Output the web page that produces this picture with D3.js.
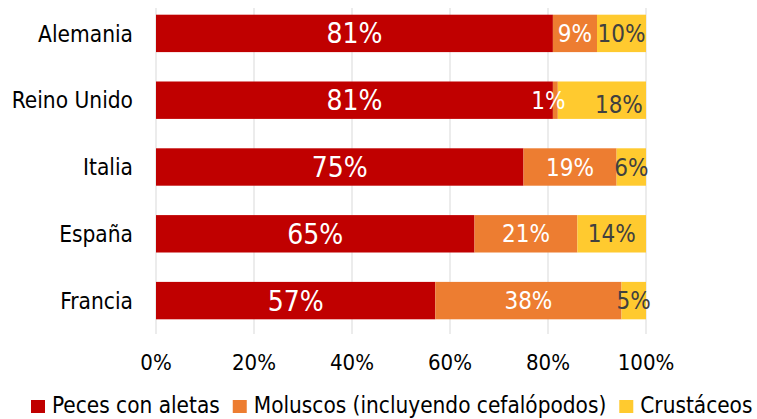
<!DOCTYPE html>
<html>
<head>
<meta charset="utf-8">
<script src="https://cdn.jsdelivr.net/npm/d3@7"></script>
<style>
  body { margin: 0; background: #fff; }
  svg text { font-family: "DejaVu Sans Condensed", "DejaVu Sans", sans-serif; font-stretch: condensed; }
</style>
</head>
<body>
<svg id="chart" width="757" height="419"></svg>
<script>
const countries = ["Alemania", "Reino Unido", "Italia", "España", "Francia"];
const seriesNames = ["Peces con aletas", "Moluscos (incluyendo cefalópodos)", "Crustáceos"];
const peces = [81, 81, 75, 65, 57];
const moluscos = [9, 1, 19, 21, 38];
const crustaceos = [10, 18, 6, 14, 5];
const ticks = [0, 20, 40, 60, 80, 100];

const colors = ["#C00000", "#ED7D31", "#FFCA2F"];
const labelColors = ["#fff", "#fff", "#404040"];
const labelSizes = [28, 24, 24];
// hand-moved labels in the original (Reino Unido, small slices)
const nudge = {"Reino Unido-s1": [-7, 0], "Reino Unido-s2": [17, 4]};

const w = 757, h = 419;
const svg = d3.select("#chart");

const x = d3.scaleLinear().domain([0, 100]).range([156, 646]);
const y = d3.scaleBand().domain(countries).range([0, 334]).paddingInner(0.44).paddingOuter(0.22);

const table = countries.map((c, i) => ({country: c, s0: peces[i], s1: moluscos[i], s2: crustaceos[i]}));
const stacked = d3.stack().keys(["s0", "s1", "s2"])(table);

// gridlines
svg.append("g").selectAll("line").data(ticks).enter().append("line")
    .attr("x1", d => x(d)).attr("x2", d => x(d))
    .attr("y1", 8).attr("y2", 334)
    .attr("stroke", "#d9d9d9").attr("stroke-width", 1);

// bars
stacked.forEach((layer, k) => {
    svg.append("g").selectAll("rect").data(layer).enter().append("rect")
        .attr("x", d => x(d[0]))
        .attr("y", d => y(d.data.country))
        .attr("width", d => x(d[1]) - x(d[0]))
        .attr("height", y.bandwidth())
        .attr("fill", colors[k]);
});

// value labels, on top of every bar
stacked.forEach((layer, k) => {
    const off = d => nudge[d.data.country + "-" + layer.key] || [0, 0];
    svg.append("g").selectAll("text").data(layer).enter().append("text")
        .attr("x", d => (x(d[0]) + x(d[1])) / 2 + off(d)[0])
        .attr("y", d => y(d.data.country) + y.bandwidth() / 2 + off(d)[1])
        .attr("dy", "0.36em")
        .attr("text-anchor", "middle")
        .attr("fill", labelColors[k])
        .style("font-size", labelSizes[k] + "px")
        .text(d => (d[1] - d[0]) + "%");
});

// category labels
svg.append("g").selectAll("text").data(countries).enter().append("text")
    .attr("x", 133)
    .attr("y", d => y(d) + y.bandwidth() / 2)
    .attr("dy", "0.36em")
    .attr("text-anchor", "end")
    .attr("fill", "#000")
    .style("font-size", "22.5px")
    .text(d => d);

// x tick labels
svg.append("g").selectAll("text").data(ticks).enter().append("text")
    .attr("x", d => x(d))
    .attr("y", 370)
    .attr("text-anchor", "middle")
    .attr("fill", "#000")
    .style("font-size", "22px")
    .text(d => d + "%");

// legend
const leg = svg.append("g");
const items = leg.selectAll("g").data(seriesNames).enter().append("g");
items.append("rect").attr("width", 14).attr("height", 13).attr("y", 400)
    .attr("fill", (d, i) => colors[i]);
items.append("text").attr("x", 21).attr("y", 413)
    .attr("fill", "#000").style("font-size", "22.4px").text(d => d);
let pos = 31;
const offs = [];
items.each(function () {
    offs.push(pos);
    pos += 21 + d3.select(this).select("text").node().getComputedTextLength() + 13;
});
items.attr("transform", (d, i) => `translate(${offs[i]},0)`);
</script>
</body>
</html>
